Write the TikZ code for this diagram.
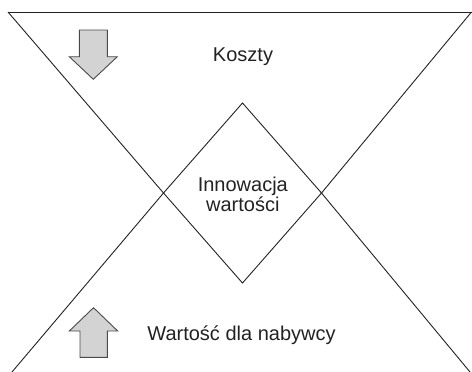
\documentclass[tikz,border=0pt]{standalone}
\usepackage{fontspec}
\setmainfont{Liberation Sans}
\usetikzlibrary{shapes.geometric}
\definecolor{linec}{HTML}{222222}
\definecolor{arrfill}{HTML}{D3D3D3}
\definecolor{arrline}{HTML}{4A4A4A}
\tikzset{
  lin/.style={draw=linec, line width=0.9pt, line join=miter},
  arrowshape/.style={fill=arrfill, draw=arrline, line width=0.9pt, line join=miter},
  lbl/.style={font=\fontsize{20}{20}\selectfont, text=linec, inner sep=0pt, anchor=base},
}
\begin{document}
\begin{tikzpicture}[x=1pt, y=-1pt]
\useasboundingbox (0,0) rectangle (472,372);
% corner coordinates
\coordinate (tl) at (8,12);
\coordinate (tr) at (471.5,12);
\coordinate (bl) at (12,372);
\coordinate (br) at (470,372);
% diamond
\node[diamond, lin, inner sep=0pt, outer sep=0pt, minimum width=158pt, minimum height=180pt] (inn) at (242.5,193) {};
% lines
\draw[lin] (tl) -- (tr);
\draw[lin] (tl) -- (inn.west);
\draw[lin] (tr) -- (inn.east);
\draw[lin] (bl) -- (inn.west);
\draw[lin] (br) -- (inn.east);
% labels
\node[lbl] (koszty) at (243,61.7) {Koszty};
\node[lbl] (inn1) at (242.8,191.7) {Innowacja};
\node[lbl] (inn2) at (242.8,211.7) {wartości};
\node[lbl] (wart) at (241.5,340.7) {Wartość dla nabywcy};
% arrows
\draw[arrowshape] (79.3,30) -- (107.3,30) -- (107.3,56.7) -- (117.3,56.7) -- (93.3,79.3) -- (69.3,56.7) -- (79.3,56.7) -- cycle;
\draw[arrowshape] (80,357.3) -- (107.3,357.3) -- (107.3,331) -- (117.7,331) -- (93.5,307.7) -- (69.3,331) -- (80,331) -- cycle;
\end{tikzpicture}
\end{document}
